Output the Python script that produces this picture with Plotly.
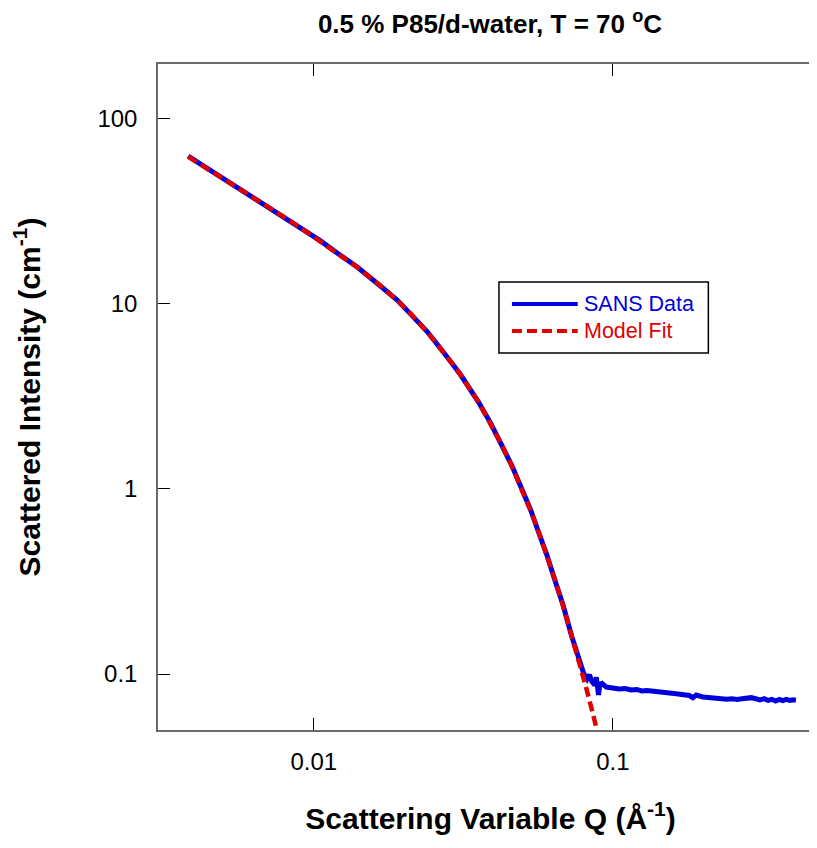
import plotly.graph_objects as go

# ---- data ----
q_data = [0.0038, 0.0045, 0.0055, 0.0065, 0.0077, 0.009, 0.0105, 0.012, 0.014, 0.0165,
          0.019, 0.0213, 0.024, 0.0277, 0.031, 0.0356, 0.039, 0.0425, 0.046, 0.0497,
          0.053, 0.0565, 0.060, 0.0644, 0.068, 0.0728, 0.0751, 0.0776, 0.0798, 0.082,
          0.0835, 0.085, 0.087, 0.088, 0.089, 0.0895, 0.0905, 0.092, 0.095, 0.100, 0.105,
          0.110, 0.115, 0.120, 0.125, 0.130, 0.140, 0.150, 0.160, 0.170, 0.180,
          0.185, 0.190, 0.200, 0.210, 0.220, 0.230, 0.240, 0.250, 0.260, 0.270,
          0.280, 0.290, 0.300, 0.310, 0.320, 0.330, 0.340, 0.350, 0.360, 0.370,
          0.380, 0.390, 0.400, 0.409]
i_data = [63.0, 52.8, 43.4, 36.3, 30.6, 25.8, 22.0, 18.8, 15.8, 12.7,
          10.5, 8.65, 7.05, 5.25, 4.13, 2.93, 2.27, 1.72, 1.33, 0.99,
          0.775, 0.58, 0.445, 0.31, 0.238, 0.160, 0.136, 0.115, 0.101, 0.094,
          0.099, 0.091, 0.087, 0.096, 0.083, 0.077, 0.088, 0.089, 0.085, 0.084, 0.083,
          0.0835, 0.082, 0.0825, 0.081, 0.0815, 0.080, 0.079, 0.0785, 0.0775, 0.0765,
          0.0745, 0.077, 0.075, 0.0745, 0.0735, 0.074, 0.073, 0.0735, 0.0728, 0.0735,
          0.074, 0.0745, 0.0735, 0.0725, 0.0735, 0.072, 0.073, 0.0715, 0.0728, 0.0718,
          0.073, 0.072, 0.0725, 0.0722]

q_fit = [0.0038, 0.0045, 0.0055, 0.0065, 0.0077, 0.009, 0.0105, 0.012, 0.014, 0.0165,
         0.019, 0.0213, 0.024, 0.0277, 0.031, 0.0356, 0.039, 0.0425, 0.046, 0.0497,
         0.053, 0.0565, 0.060, 0.0644, 0.068, 0.0728, 0.0776, 0.081, 0.085, 0.0885, 0.092]
i_fit = [62.5, 52.8, 43.2, 36.4, 30.5, 25.9, 21.9, 18.9, 15.75, 12.76,
         10.45, 8.70, 7.02, 5.27, 4.11, 2.94, 2.26, 1.73, 1.32, 0.995,
         0.769, 0.584, 0.443, 0.313, 0.236, 0.162, 0.112, 0.0866, 0.0642, 0.0496, 0.0385]

x_ticks = [0.01, 0.1]
x_tick_text = ["0.01", "0.1"]
y_ticks = [0.1, 1, 10, 100]
y_tick_text = ["0.1", "1", "10", "100"]

series_names = ["SANS Data", "Model Fit"]
title_text = "<b>0.5 % P85/d-water, T = 70 <sup>o</sup>C</b>"
x_title = "<b>Scattering Variable Q (Å<sup>-1</sup>)</b>"
y_title = "<b>Scattered Intensity (cm<sup>-1</sup>)</b>"

FONT = "Liberation Sans, Arial, sans-serif"
BLUE = "#0000dd"
RED = "#e00000"

fig = go.Figure()
fig.add_trace(go.Scatter(x=q_data, y=i_data, mode="lines", name=series_names[0],
                         line=dict(color=BLUE, width=5), showlegend=False))
fig.add_trace(go.Scatter(x=q_fit, y=i_fit, mode="lines", name=series_names[1],
                         line=dict(color=RED, width=4.5, dash="10px,5px"), showlegend=False))

x_range = [-2.521, -0.2977]
y_range = [-1.3027, 2.297]

# the page adds an 8 px body margin, so the figure is laid out 8 px up/left
fig.update_layout(
    width=817, height=848,
    margin=dict(l=150, r=0, t=56, b=126),
    paper_bgcolor="white", plot_bgcolor="white",
    font=dict(family=FONT, color="black"),
    title=dict(text=title_text, x=482 / 817, xanchor="center", y=1 - 16 / 848, yanchor="middle",
               font=dict(size=26, family=FONT, color="black")),
    xaxis=dict(type="log", range=x_range, tickvals=x_ticks, ticktext=x_tick_text,
               ticks="inside", ticklen=12, tickwidth=1, tickcolor="black",
               showline=True, linecolor="#6a6a6a", linewidth=1.5, mirror="ticks",
               showgrid=False, zeroline=False, tickfont=dict(size=24, family=FONT, color="black"),
               ticklabelstandoff=9,
               title=dict(text=x_title, font=dict(size=30, family=FONT, color="black"), standoff=34)),
    yaxis=dict(type="log", range=y_range, tickvals=y_ticks, ticktext=y_tick_text,
               ticks="inside", ticklen=12, tickwidth=1, tickcolor="black",
               showline=True, linecolor="#6a6a6a", linewidth=1.5, mirror="ticks",
               showgrid=False, zeroline=False, tickfont=dict(size=24, family=FONT, color="black"),
               ticklabelstandoff=14,
               title=dict(text=y_title, font=dict(size=30, family=FONT, color="black"), standoff=48)),
)

# legend box drawn in paper coordinates (positions given in screen pixels)
def px_x(sx):
    return (sx - 158) / (825 - 158)

def px_y(sy):
    return (730 - sy) / (730 - 64)

fig.add_shape(type="rect", xref="paper", yref="paper",
              x0=px_x(500), x1=px_x(710), y0=px_y(353), y1=px_y(282),
              line=dict(color="black", width=1.5), fillcolor="white")
fig.add_shape(type="line", xref="paper", yref="paper",
              x0=px_x(513), x1=px_x(579), y0=px_y(304), y1=px_y(304),
              line=dict(color=BLUE, width=4))
fig.add_shape(type="line", xref="paper", yref="paper",
              x0=px_x(513), x1=px_x(579), y0=px_y(331), y1=px_y(331),
              line=dict(color=RED, width=4, dash="10px,5px"))
fig.add_annotation(xref="paper", yref="paper", x=px_x(583), y=px_y(304), text=series_names[0],
                   showarrow=False, xanchor="left", yanchor="middle",
                   font=dict(size=21.5, family=FONT, color=BLUE))
fig.add_annotation(xref="paper", yref="paper", x=px_x(583), y=px_y(331), text=series_names[1],
                   showarrow=False, xanchor="left", yanchor="middle",
                   font=dict(size=21.5, family=FONT, color=RED))

fig.write_html("out.html")
